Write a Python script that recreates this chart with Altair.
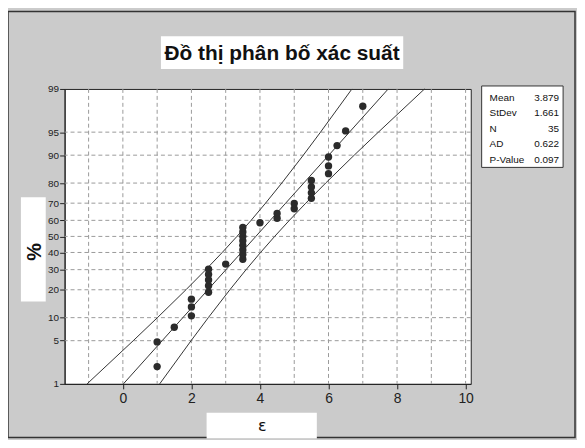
import altair as alt
import pandas as pd
from statistics import NormalDist

# ---------------- data ----------------
title_text = "Đồ thị phân bố xác suất"
x_title = "ε"
y_title = "%"

eps_values = [1, 1, 1.5, 2, 2, 2, 2.5, 2.5, 2.5, 2.5, 2.5, 3,
              3.5, 3.5, 3.5, 3.5, 3.5, 3.5, 3.5, 3.5, 4, 4.5, 4.5, 5, 5,
              5.5, 5.5, 5.5, 5.5, 6, 6, 6, 6.25, 6.5, 7]
pct_values = [2.0, 4.8, 7.6, 10.5, 13.3, 16.1, 18.9, 21.8, 24.6, 27.4, 30.2, 33.1,
              35.9, 38.7, 41.5, 44.4, 47.2, 50.0, 52.8, 55.6, 58.5, 61.3, 64.1, 66.9, 69.8,
              72.6, 75.4, 78.2, 81.1, 83.9, 86.7, 89.5, 92.4, 95.2, 98.0]

band_pct = [1, 5, 10, 20, 30, 40, 50, 60, 70, 80, 90, 95, 99]
fit_x = [0.015, 1.147, 1.750, 2.481, 3.008, 3.458, 3.879, 4.300, 4.750, 5.277, 6.008, 6.611, 7.743]
lower_x = [-1.044, 0.303, 1.008, 1.841, 2.421, 2.899, 3.329, 3.741, 4.163, 4.637, 5.265, 5.767, 6.684]
upper_x = [1.074, 1.991, 2.493, 3.122, 3.595, 4.017, 4.429, 4.859, 5.337, 5.917, 6.750, 7.455, 8.802]

stat_names = ["Mean", "StDev", "N", "AD", "P-Value"]
stat_vals = ["3.879", "1.661", "35", "0.622", "0.097"]

x_tick_values = [0, 2, 4, 6, 8, 10]
x_grid_values = [-1, 0, 1, 2, 3, 4, 5, 6, 7, 8, 9, 10]
y_tick_pct = [1, 5, 10, 20, 30, 40, 50, 60, 70, 80, 90, 95, 99]
y_grid_pct = [5, 10, 20, 30, 40, 50, 60, 70, 80, 90, 95]

# ---------------- tables ----------------
nd = NormalDist()
pts = pd.DataFrame({"eps": eps_values, "pct": pct_values})
lines = pd.concat([
    pd.DataFrame({"eps": fit_x, "pct": band_pct, "series": "fit"}),
    pd.DataFrame({"eps": lower_x, "pct": band_pct, "series": "lower"}),
    pd.DataFrame({"eps": upper_x, "pct": band_pct, "series": "upper"}),
])
xgrid = pd.DataFrame({"eps": x_grid_values})
ygrid = pd.DataFrame({"pct": y_grid_pct})
stats = pd.DataFrame({"name": stat_names, "val": stat_vals, "row": list(range(len(stat_names)))})

z_lo = nd.inv_cdf(0.01)
z_hi = nd.inv_cdf(0.99)
y_tick_z = [nd.inv_cdf(p / 100) for p in y_tick_pct]

xscale = alt.Scale(domain=[-1.7, 10.15], nice=False, zero=False)
yscale = alt.Scale(domain=[z_lo, z_hi], nice=False, zero=False)
xaxis = alt.Axis(values=x_tick_values, grid=False, tickSize=5, tickColor="#222",
                 domainColor="#222", labelFont="Liberation Sans", labelFontSize=14,
                 labelColor="#222", labelPadding=3, labelFlush=False, title="")
yaxis = alt.Axis(values=y_tick_z, labelExpr="round(cumulativeNormal(datum.value)*100)",
                 grid=False, tickSize=5, tickColor="#222", domainColor="#222",
                 labelFont="Liberation Sans Narrow, Liberation Sans", labelFontSize=10,
                 labelColor="#222", labelPadding=1, labelOverlap=False, title="")

X = alt.X("eps:Q", scale=xscale, axis=xaxis)
Y = alt.Y("z:Q", scale=yscale, axis=yaxis)
toz = "quantileNormal(datum.pct / 100)"

grid_v = alt.Chart(xgrid).mark_rule(color="#9a9a9a", strokeDash=[4, 3], strokeWidth=1).encode(x=X)
grid_h = alt.Chart(ygrid).transform_calculate(z=toz).mark_rule(
    color="#9a9a9a", strokeDash=[4, 3], strokeWidth=1).encode(y=Y)

line_layer = alt.Chart(lines).transform_calculate(z=toz).mark_line(
    color="#333", strokeWidth=1).encode(x=X, y=Y, detail="series:N", order=alt.Order("pct:Q"))

point_layer = alt.Chart(pts).transform_calculate(z=toz).mark_circle(
    size=55, color="#2b2b2b", opacity=1).encode(x=X, y=Y)

# decorations (pixel positions relative to plot origin)
one = pd.DataFrame({"a": [0]})
frame = alt.Chart(one).mark_rect(
    fill="transparent", stroke="#333", strokeWidth=1.5).encode(
    x=alt.value(-57), x2=alt.value(514), y=alt.value(-78), y2=alt.value(351))

title_box = alt.Chart(one).mark_rect(fill="white").encode(
    x=alt.value(97), x2=alt.value(341), y=alt.value(-53), y2=alt.value(-20))
title_mark = alt.Chart(pd.DataFrame({"t": [title_text]})).mark_text(
    font="Liberation Sans", fontSize=21, fontWeight="bold", color="#111",
    align="center", baseline="middle").encode(
    x=alt.value(219), y=alt.value(-35), text="t:N")

ybox = alt.Chart(one).mark_rect(fill="white").encode(
    x=alt.value(-44), x2=alt.value(-19), y=alt.value(109), y2=alt.value(214))
ylab = alt.Chart(pd.DataFrame({"t": [y_title]})).mark_text(
    font="Liberation Sans", fontSize=20, fontWeight="bold", color="#111",
    align="center", baseline="middle", angle=270).encode(
    x=alt.value(-30), y=alt.value(164), text="t:N")

xbox = alt.Chart(one).mark_rect(fill="white").encode(
    x=alt.value(143), x2=alt.value(254), y=alt.value(326), y2=alt.value(352))
xlab = alt.Chart(pd.DataFrame({"t": [x_title]})).mark_text(
    font="DejaVu Sans", fontSize=16, color="#111",
    align="center", baseline="middle").encode(
    x=alt.value(199), y=alt.value(339), text="t:N")

stat_box = alt.Chart(one).mark_rect(
    fill="white", stroke="#333", strokeWidth=1).encode(
    x=alt.value(420), x2=alt.value(502), y=alt.value(-3), y2=alt.value(79))
stat_names_mark = alt.Chart(stats).transform_calculate(
    px="428", py="9 + datum.row * 15.6").mark_text(
    font="Liberation Sans Narrow, Liberation Sans", fontSize=10, color="#111",
    align="left", baseline="middle").encode(
    x=alt.X("px:Q", scale=None, axis=None), y=alt.Y("py:Q", scale=None, axis=None), text="name:N")
stat_vals_mark = alt.Chart(stats).transform_calculate(
    px="498", py="9 + datum.row * 15.6").mark_text(
    font="Liberation Sans Narrow, Liberation Sans", fontSize=10, color="#111",
    align="right", baseline="middle").encode(
    x=alt.X("px:Q", scale=None, axis=None), y=alt.Y("py:Q", scale=None, axis=None), text="val:N")

chart = alt.layer(
    grid_v, grid_h, line_layer, point_layer,
    frame, title_box, title_mark, ybox, ylab, xbox, xlab,
    stat_box, stat_names_mark, stat_vals_mark,
).properties(
    width=409, height=297,
    autosize=alt.AutoSizeParams(type="none"),
    padding={"left": 57, "top": 80, "right": 107, "bottom": 55},
).configure(background="#cbcbcb").configure_view(fill="white", stroke="#222", strokeWidth=1)

chart.save("out.html", embed_options={"renderer": "svg", "actions": False})
